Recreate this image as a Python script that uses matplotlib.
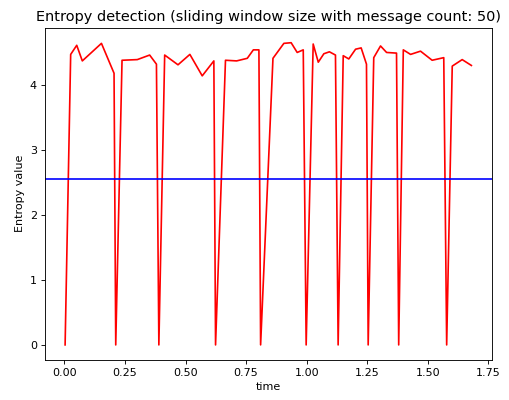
import matplotlib
matplotlib.use("Agg")
import matplotlib.pyplot as plt

# entropy values per window
time = [0.003, 0.026, 0.051, 0.074, 0.153, 0.205, 0.212, 0.238, 0.301, 0.352,
        0.380, 0.390, 0.414, 0.469, 0.518, 0.569, 0.617, 0.624, 0.665, 0.711,
        0.755, 0.780, 0.803, 0.810, 0.861, 0.906, 0.936, 0.961, 0.986, 0.998,
        1.027, 1.048, 1.071, 1.094, 1.119, 1.130, 1.151, 1.174, 1.202, 1.225,
        1.247, 1.254, 1.277, 1.305, 1.330, 1.371, 1.380, 1.399, 1.429, 1.470,
        1.518, 1.566, 1.578, 1.601, 1.642, 1.680]
entropy = [0.0, 4.47, 4.61, 4.37, 4.64, 4.18, 0.0, 4.38, 4.39, 4.46,
           4.32, 0.0, 4.46, 4.31, 4.47, 4.14, 4.37, 0.0, 4.38, 4.37,
           4.41, 4.54, 4.54, 0.0, 4.41, 4.64, 4.65, 4.50, 4.54, 0.0,
           4.63, 4.35, 4.48, 4.51, 4.46, 0.0, 4.45, 4.40, 4.55, 4.57,
           4.32, 0.0, 4.42, 4.60, 4.50, 4.49, 0.0, 4.54, 4.47, 4.52,
           4.38, 4.42, 0.0, 4.29, 4.39, 4.30]
threshold = 2.55

fig = plt.figure(figsize=(509 / 80, 400 / 80), dpi=80)
ax = fig.add_axes([0.088, 0.1, 0.878, 0.831])
ax.plot(time, entropy, 'r-')
ax.axhline(threshold, color='b')
ax.set_title('Entropy detection (sliding window size with message count: 50)', fontsize=13)
ax.set_xlabel('time')
ax.set_ylabel('Entropy value')
fig.savefig('out.png', dpi=80)
